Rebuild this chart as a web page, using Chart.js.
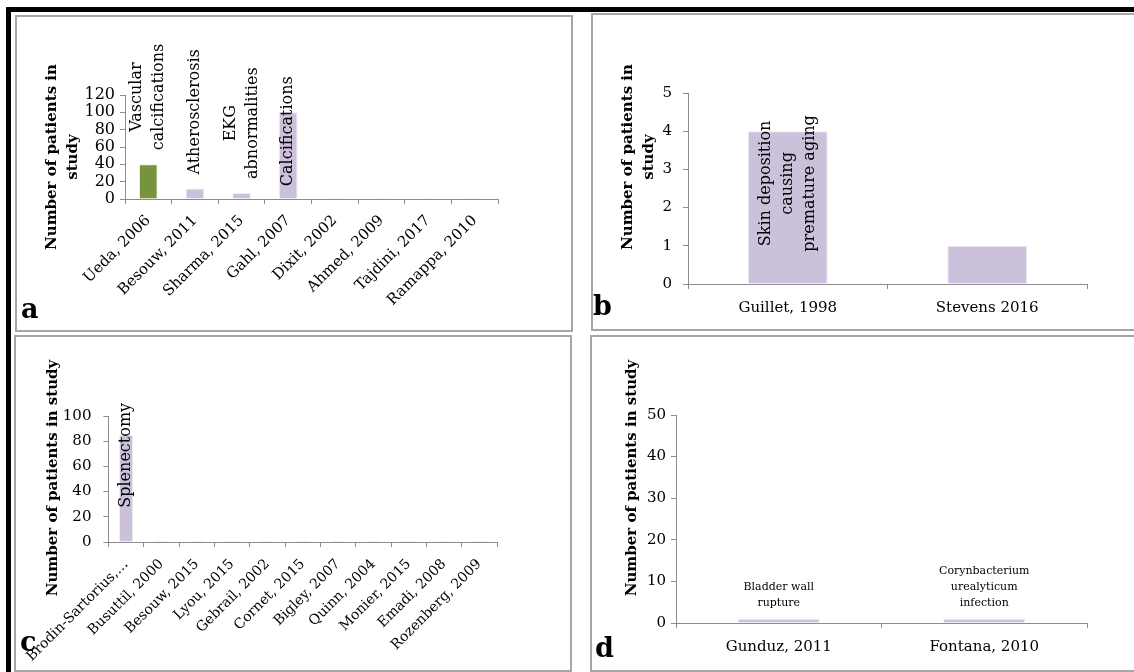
<!DOCTYPE html>
<html>
<head>
<meta charset="utf-8">
<script src="https://cdn.jsdelivr.net/npm/chart.js@4.4.1/dist/chart.umd.min.js"></script>
<style>
  html, body { margin: 0; padding: 0; background: #fff; }
  #page { position: relative; width: 1134px; height: 672px; overflow: hidden; background: #fff; font-family: "DejaVu Serif", serif; }
  .frame { position: absolute; background: #000; }
  .panel { position: absolute; border: 2px solid #a6a6a6; box-sizing: border-box; }
  canvas { position: absolute; }
  .ytitle { position: absolute; font: bold 15px "DejaVu Serif", serif; line-height: 21px; text-align: center;
            white-space: nowrap; color: #000; transform: translate(-50%, -50%) rotate(-90deg); }
  .tag { position: absolute; font: bold 27px "DejaVu Serif", serif; line-height: 27px; color: #000; }
</style>
</head>
<body>
<div id="page">
  <div class="frame" style="left:6px;top:7px;width:1128px;height:5px"></div>
  <div class="frame" style="left:6px;top:7px;width:5px;height:665px"></div>

  <div class="panel" style="left:15px;top:15px;width:558px;height:317px"></div>
  <div class="panel" style="left:591px;top:13px;width:560px;height:318px"></div>
  <div class="panel" style="left:14px;top:335px;width:558px;height:337px"></div>
  <div class="panel" style="left:590px;top:335px;width:560px;height:337px"></div>

  <canvas id="chartA" width="554" height="313" style="left:17px;top:17px"></canvas>
  <canvas id="chartB" width="541" height="314" style="left:593px;top:15px"></canvas>
  <canvas id="chartC" width="554" height="333" style="left:16px;top:337px"></canvas>
  <canvas id="chartD" width="542" height="333" style="left:592px;top:337px"></canvas>

  <div class="ytitle" style="left:62px;top:157px">Number of patients in<br>study</div>
  <div class="ytitle" style="left:638px;top:157px">Number of patients in<br>study</div>
  <div class="ytitle" style="left:52px;top:478px">Number of patients in study</div>
  <div class="ytitle" style="left:631px;top:478px">Number of patients in study</div>

  <div class="tag" style="left:21px;top:295px">a</div>
  <div class="tag" style="left:593px;top:292px">b</div>
  <div class="tag" style="left:20px;top:628px">c</div>
  <div class="tag" style="left:595px;top:634px">d</div>
</div>

<script>
// ---- Panel a: cardiovascular findings ----
const studiesA = ["Ueda, 2006", "Besouw, 2011", "Sharma, 2015", "Gahl, 2007",
                  "Dixit, 2002", "Ahmed, 2009", "Tajdini, 2017", "Ramappa, 2010"];
const patientsA = [40, 12, 7, 100, 1, 1, 1, 1];
const findingsA = [["Vascular", "calcifications"], ["Atherosclerosis"], ["EKG", "abnormalities"],
                   ["Calcifications"], [], [], [], []];

// ---- Panel b: skin findings ----
const studiesB = ["Guillet, 1998", "Stevens 2016"];
const patientsB = [4, 1];
const findingsB = [["Skin deposition", "causing", "premature aging"], []];

// ---- Panel c: splenic findings ----
const studiesC = ["Brodin-Sartorius,…", "Busuttil, 2000", "Besouw, 2015", "Lyou, 2015",
                  "Gebrail, 2002", "Cornet, 2015", "Bigley, 2007", "Quinn, 2004",
                  "Monier, 2015", "Emadi, 2008", "Rozenberg, 2009"];
const patientsC = [85, 1, 1, 1, 1, 1, 1, 1, 1, 1, 1];
const findingsC = [["Splenectomy"], [], [], [], [], [], [], [], [], [], []];

// ---- Panel d: urological findings ----
const studiesD = ["Gunduz, 2011", "Fontana, 2010"];
const patientsD = [1, 1];
const findingsD = [["Bladder wall", "rupture"], ["Corynbacterium", "urealyticum", "infection"]];

// ---- Axis ranges ----
const yMaxA = 120, yStepA = 20;
const yMaxB = 5,   yStepB = 1;
const yMaxC = 100, yStepC = 20;
const yMaxD = 50,  yStepD = 10;

const LAVENDER = "#ccc1da";
const OLIVE = "#77933c";
const AXIS = "#8c8c8c";
const SERIF = "'DejaVu Serif', serif";

// Writes the finding next to each bar, either rotated (reading upwards) or as stacked lines.
const barNotes = {
  id: "barNotes",
  afterDatasetsDraw(chart, args, opts) {
    const notes = opts.notes;
    if (!notes) return;
    const ctx = chart.ctx;
    const meta = chart.getDatasetMeta(0);
    ctx.save();
    ctx.font = opts.font;
    ctx.fillStyle = "#000";
    ctx.textAlign = "center";
    ctx.textBaseline = "middle";
    meta.data.forEach((bar, i) => {
      const lines = notes[i];
      if (!lines || !lines.length) return;
      const { x, y } = bar.getProps(["x", "y"], true);
      const lh = opts.lineHeight;
      if (opts.rotated) {
        const len = Math.max(...lines.map(l => ctx.measureText(l).width));
        let top = y - opts.gap - len;
        if (top < 0) top = y - opts.overflowLift;
        const cy = top + len / 2;
        ctx.save();
        ctx.translate(x, cy);
        ctx.rotate(-Math.PI / 2);
        lines.forEach((l, j) => ctx.fillText(l, 0, (j - (lines.length - 1) / 2) * lh));
        ctx.restore();
      } else {
        const n = lines.length;
        lines.forEach((l, j) => ctx.fillText(l, x, y - opts.gap - (n - 1 - j) * lh));
      }
    });
    ctx.restore();
  }
};

function makeChart(id, labels, values, notes, cfg) {
  const ctx = document.getElementById(id);
  return new Chart(ctx, {
    type: "bar",
    data: {
      labels: labels,
      datasets: [{
        data: values,
        backgroundColor: cfg.fill || LAVENDER,
        borderColor: "rgba(235,235,240,0.9)",
        borderWidth: 1,
        categoryPercentage: 1.0,
        barPercentage: 0.4
      }]
    },
    options: {
      responsive: false,
      animation: false,
      devicePixelRatio: 1,
      layout: { padding: { left: 0, top: cfg.padTop, right: cfg.padRight, bottom: 0 } },
      plugins: {
        legend: { display: false },
        tooltip: { enabled: false },
        barNotes: Object.assign({ notes: notes }, cfg.notes)
      },
      scales: {
        x: {
          grid: { display: true, offset: true, drawOnChartArea: false, drawTicks: true, tickLength: 5, color: AXIS },
          border: { display: true, color: AXIS, width: 1 },
          ticks: {
            color: "#000",
            font: { family: SERIF, size: cfg.xFont },
            autoSkip: false,
            minRotation: cfg.rot, maxRotation: cfg.rot,
            padding: cfg.xPad
          },
          afterFit: s => { s.height = cfg.xHeight; }
        },
        y: {
          min: 0, max: cfg.yMax,
          grid: { display: true, drawOnChartArea: false, drawTicks: true, tickLength: 5, color: AXIS },
          border: { display: true, color: AXIS, width: 1 },
          ticks: {
            stepSize: cfg.yStep,
            autoSkip: false,
            color: "#000",
            font: { family: SERIF, size: cfg.yFont },
            padding: cfg.yPad
          },
          afterFit: s => { s.width = cfg.yWidth; }
        }
      }
    },
    plugins: [barNotes]
  });
}

makeChart("chartA", studiesA, patientsA, findingsA, {
  fill: c => (c.dataIndex === 0 ? OLIVE : LAVENDER),
  yMax: yMaxA, yStep: yStepA, yWidth: 108, xHeight: 131, padTop: 78, padRight: 73,
  xFont: 15, yFont: 16, rot: 45, xPad: 8, yPad: 5,
  notes: { rotated: true, font: "16px " + SERIF, lineHeight: 22, gap: 14, overflowLift: 36 }
});

makeChart("chartB", studiesB, patientsB, findingsB, {
  yMax: yMaxB, yStep: yStepB, yWidth: 95, xHeight: 45, padTop: 78, padRight: 47,
  xFont: 15, yFont: 15, rot: 0, xPad: 10, yPad: 11,
  notes: { rotated: true, font: "16px " + SERIF, lineHeight: 22, gap: 14, overflowLift: 16 }
});

makeChart("chartC", studiesC, patientsC, findingsC, {
  yMax: yMaxC, yStep: yStepC, yWidth: 91, xHeight: 128, padTop: 79, padRight: 73,
  xFont: 14, yFont: 15, rot: 45, xPad: 9, yPad: 12,
  notes: { rotated: true, font: "16px " + SERIF, lineHeight: 22, gap: 14, overflowLift: 32 }
});

makeChart("chartD", studiesD, patientsD, findingsD, {
  yMax: yMaxD, yStep: yStepD, yWidth: 84, xHeight: 47, padTop: 78, padRight: 47,
  xFont: 15, yFont: 15, rot: 0, xPad: 10, yPad: 5,
  notes: { rotated: false, font: "11px " + SERIF, lineHeight: 16, gap: 16 }
});
</script>
</body>
</html>
